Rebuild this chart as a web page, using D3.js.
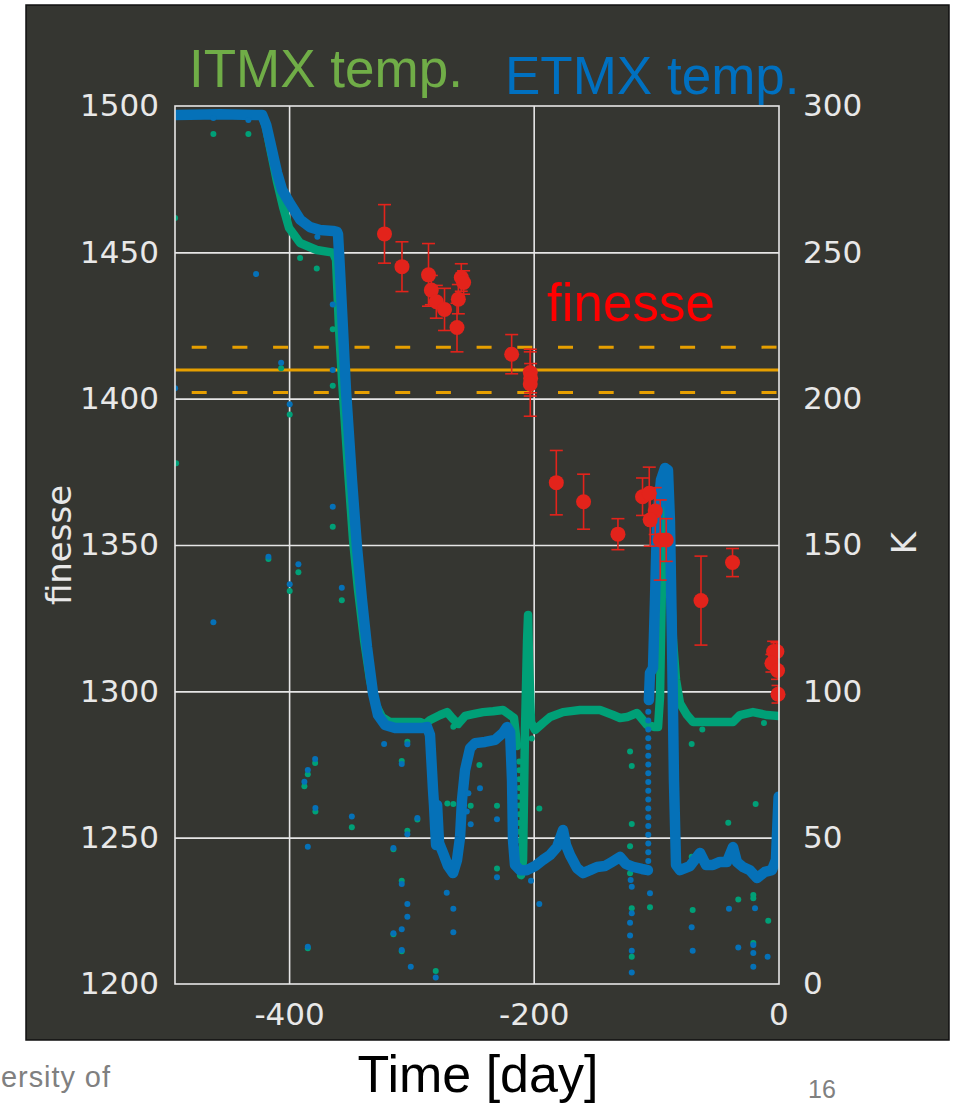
<!DOCTYPE html>
<html><head><meta charset="utf-8">
<script src="https://cdn.jsdelivr.net/npm/d3@7"></script>
<style>body{margin:0;background:#fff;} svg{display:block}</style>
</head><body>
<svg id="chart" width="961" height="1106"></svg>
<script>
// ---------- data ----------
const xTicks = [-400, -200, 0];
const finesseTicks = [1200, 1250, 1300, 1350, 1400, 1450, 1500];
const kelvinTicks = [0, 50, 100, 150, 200, 250, 300];
const finesseRef = 1409.8;
const finesseBand = [1402.1, 1417.6];

// finesse measurements: day, value, error
const finesseDays = [-322, -307.7, -286, -283.7, -279.6, -272.9, -262.7, -261.6, -259.2, -257.3,
  -218, -202.8, -202.5, -202.8, -181.5, -159.2, -131.1, -111, -105.5, -100.6, -104.7, -96.5, -91.6,
  -63.2, -37.4, -3.8, -1.1, -5.2, -0.6, -0.2];
const finesseVals = [1456.3, 1445.1, 1442.3, 1437.1, 1433.1, 1430.5, 1424.3, 1434, 1441.4, 1439.7,
  1415.2, 1408.9, 1407, 1405, 1371.3, 1364.8, 1353.7, 1366.5, 1367.7, 1361.6, 1358.6, 1351.7, 1351.7,
  1331, 1344, 1313.6, 1313.6, 1309.6, 1307.1, 1299];
const finesseErr = [10, 8.5, 10.7, 5, 5.6, 7.2, 8.3, 5, 4.7, 4,
  6.7, 8, 5, 11, 11, 9.4, 5.3, 6.4, 8.9, 8, 9, 13.7, 7.3,
  15.2, 4.8, 3.5, 3, 3, 3, 3];

// ETMX temperature [day, K]
const etmxTempA = [[-493.3,296.9],[-456.4,297.2],[-422,296.9],[-418.7,293.5],[-415.5,287.7],[-409.8,277.1],
  [-405.7,271.3],[-400,267.2],[-391,261.2],[-382.9,258.6],[-374.7,257.6],[-364.1,257.3],[-360.8,257],
  [-360,256.2],[-358.4,243.9],[-355.9,223.4],[-353.5,202.9],[-348.6,172.2],[-344.5,149.3],[-340.4,131.2],
  [-336.3,115.1],[-331.4,99.4],[-327.3,91.9],[-321.5,88.5],[-313.3,87.5],[-290.5,87.5],[-287.2,87.8],
  [-284.8,85.1],[-282.3,66.3],[-281.5,61.2],[-279.8,47.5],[-279,61.2],[-277.4,48.2],[-274.1,44.8],
  [-270,40.3],[-265.9,37.9],[-262.7,42.4],[-260.2,50.2],[-258.6,62.9],[-256.1,73.1],[-252,80.6],
  [-247.9,82.3],[-239.8,82.7],[-231.6,83.4],[-225.1,85.8],[-221.8,87.8],[-219.3,86.1],[-217.7,69.7],
  [-216.9,49.2],[-215.3,40.7],[-211.2,38.9],[-205.5,38.9],[-198.9,40.3],[-192.4,42.4],[-186.6,44.1],
  [-180.9,46.8],[-176,52.6],[-173.6,47.5],[-170.3,44.1],[-164.6,39.6],[-159.7,37.9],[-154,38.9],
  [-148.2,40],[-141.7,40.3],[-136,41.7],[-129.4,43.4],[-124.5,41],[-118.8,40],[-111.5,39.3],[-106.6,38.9]];
const etmxTempB = [[-105.8,97],[-104.9,106.3],[-102.4,108],[-100.8,131.2],[-99.1,158.5],[-95.9,172.2],
  [-92.6,176.3],[-90.2,175.6],[-88.6,158.5],[-86.9,117.5],[-85.3,69.7],[-83.6,40.7],[-80.4,38.9],
  [-72.2,40.3],[-64,44.8],[-59.1,40.7],[-53.4,40.7],[-47.7,41.7],[-42,41.7],[-37,46.8],[-33.8,41.7],
  [-28.9,40],[-23.2,38.9],[-17.4,36.2],[-10.9,38.3],[-5.2,38.9],[-1.9,42.4],[-0.2,59.4],[0.3,64]];
const etmxRiseDays = [-106.3];
const etmxRiseK = [42, 45, 48, 51, 54, 57, 60, 63, 66, 69, 72, 75, 78, 81, 84, 87, 90, 93];
const etmxOutliers = [[-461.9,295.9],[-433.3,295.2],[-427,242.6],[-376.9,255.3],[-364.3,232.2],[-406.5,212.3],
  [-364.3,209.8],[-493.2,203.6],[-399.5,198.1],[-364.3,163.1],[-416.9,146],[-392.4,143.4],[-399.5,136.6],
  [-356.9,135.4],[-461.9,123.6],[-378.7,76.9],[-384.7,73.1],[-387.5,69.1],[-378.5,60.1],[-348.7,57.2],
  [-384.7,46.9],[-384.7,12.7],[-322.3,82],[-303.3,81.9],[-307.9,75.2],[-295.1,56.7],[-303.3,51.2],
  [-314.7,46.5],[-307.9,34.2],[-303.3,27.3],[-303.3,23],[-314.7,17.3],[-307.9,18.7],[-307.9,11.6],
  [-300.5,5.9],[-280.1,2.2],[-271.1,31.2],[-265.7,25.7],[-265.7,17.7],[-243.9,66.9],[-253.4,65.2],
  [-251.5,54.6],[-254.7,58.9],[-230,56.3],[-230,36.5],[-202.2,35.3],[-195.4,27.3],[-120.7,35.5],
  [-119.8,33.2],[-119.8,24.2],[-121.2,20.9],[-121.2,16.6],[-119.8,11.4],[-119.8,3.9],[-104.9,31],
  [-70.8,19.4],[-70,11.4],[-40.3,25.7],[-32.7,12.5],[-19,25.9],[-20.4,13.3],[-20.4,10.6],[-20.4,5.9],
  [-8.7,9.3]];

// ITMX temperature [day, K]
const itmxTempA = [[-493.3,297.2],[-422,296.9],[-418.7,292.5],[-415.5,285.6],[-409.8,274],[-404.9,265.5],
  [-400,258.3],[-391,253.2],[-377.4,250.8],[-364.1,249.9],[-361.6,247.4],[-359.1,223.4],[-356.7,206.4],
  [-351.8,175.6],[-347.7,151.7],[-343.6,134.6],[-338.7,117.5],[-333.8,103.9],[-328.9,95.3],[-324,91.2],
  [-317.5,89.5],[-292.9,89.5],[-288.7,88.8],[-284.7,90.2],[-276.5,91.9],[-270.8,92.9],[-266.7,90.9],
  [-261.8,88.8],[-256.1,91.6],[-249.6,92.2],[-241.4,92.9],[-233.2,93.2],[-225.1,93.6],[-219.3,91.9],
  [-216.1,90.9],[-213.6,81.3]];
const itmxTempB = [[-210.3,37.2],[-208.7,42.4],[-207.1,86.8],[-205.4,117.5],[-204.6,126.1],[-203.8,110.7],
  [-202.2,89.5],[-198.9,86.8],[-192.4,89.2],[-186.6,91.2],[-176,92.9],[-162.1,93.6],[-145.8,93.6],
  [-135.1,91.9],[-129.4,90.9],[-123.7,91.2],[-115.5,92.6],[-107.3,88.5],[-100.8,87.8],[-98.3,87.8],
  [-96.7,98.1],[-95.1,137],[-93.4,172.2],[-91,173.9],[-88.6,144.9],[-86.1,117.5],[-83.6,103.9],
  [-80.4,96],[-74.6,91.9],[-69.7,89.5],[-64,89.5],[-47.7,89.5],[-37,89.5],[-31.3,91.9],[-20.7,92.9],
  [-9.2,91.9],[0.6,91.6]];
const itmxDropDays = [-211.8];
const itmxDropK = [40, 43, 46, 49, 52, 55, 58, 61, 64, 67, 70, 73, 76];
const itmxOutliers = [[-461.9,290.4],[-433.3,290.4],[-493.2,261.7],[-391,248.1],[-377.4,244.5],[-364.3,223.7],
  [-406.5,210.4],[-364.3,204.4],[-399.5,194.6],[-492.4,177.9],[-364.3,156.2],[-416.9,145.2],[-392.4,140.7],
  [-399.5,134.3],[-356.9,131.1],[-378.7,75.5],[-384.7,71.7],[-387.5,67.6],[-378.5,58.9],[-348.7,53.6],
  [-384.7,12.2],[-303.3,82.8],[-307.9,76.2],[-265.7,87.9],[-295.1,56.2],[-303.3,52.4],[-314.7,46],
  [-307.9,35.3],[-314.7,17],[-307.9,11.2],[-280.1,4.4],[-244.4,74.8],[-251.5,60.9],[-270.6,61.7],
  [-265.7,61.5],[-230,60.9],[-230,39.5],[-195.4,60],[-201.6,83.9],[-121.2,79.4],[-119.8,74.5],
  [-119.8,54.7],[-121.2,47.1],[-121.2,37.8],[-119.8,25.9],[-119.8,9.3],[-104.9,26.2],[-70.8,82],
  [-62.1,87],[-70.8,43.5],[-70,25.3],[-40.9,55.1],[-32.7,28.9],[-18.5,61.5],[-20.4,30.4],[-20.4,29.3],
  [-20.4,14],[-8.2,21.6],[-11.7,89.2]];

// ---------- drawing ----------
const svg = d3.select("#chart");
const L = 175, R = 779, T = 106, B = 984;
const x = d3.scaleLinear().domain([-493.3, 0.6]).range([L, R]);
const y = d3.scaleLinear().domain([1200, 1500]).range([B, T]);
const yK = d3.scaleLinear().domain([0, 300]).range([B, T]);

const panelCol = "#353631", gridCol = "#e6e6e6", tickCol = "#e8e8e8";
const blue = "#0571b8", green = "#00a077", orange = "#e69f00", red = "#e3231b";

svg.append("rect").attr("x", 26).attr("y", 5).attr("width", 923).attr("height", 1035)
  .attr("fill", panelCol).attr("stroke", "#111").attr("stroke-width", 1.5);

svg.append("defs").append("clipPath").attr("id", "clip")
  .append("rect").attr("x", L).attr("y", T).attr("width", R - L).attr("height", B - T);

// grid
svg.append("g").attr("transform", `translate(0,${B})`)
  .call(d3.axisBottom(x).tickValues([-400, -200]).tickSize(-(B - T)).tickFormat(""))
  .call(g => g.select(".domain").remove())
  .call(g => g.selectAll("line").attr("stroke", gridCol).attr("stroke-width", 1.6));
svg.append("g").attr("transform", `translate(${L},0)`)
  .call(d3.axisLeft(y).tickValues([1250, 1300, 1350, 1400, 1450]).tickSize(-(R - L)).tickFormat(""))
  .call(g => g.select(".domain").remove())
  .call(g => g.selectAll("line").attr("stroke", gridCol).attr("stroke-width", 1.6));

const plot = svg.append("g").attr("clip-path", "url(#clip)");

// reference lines
plot.append("line").attr("x1", L).attr("x2", R).attr("y1", y(finesseRef)).attr("y2", y(finesseRef))
  .attr("stroke", orange).attr("stroke-width", 3);
plot.selectAll("line.band").data(finesseBand).join("line").attr("class", "band")
  .attr("x1", L).attr("x2", R).attr("y1", d => y(d)).attr("y2", d => y(d))
  .attr("stroke", orange).attr("stroke-width", 3)
  .attr("stroke-dasharray", "15 25.7").attr("stroke-dashoffset", 24);

const lineK = d3.line().x(d => x(d[0])).y(d => yK(d[1])).curve(d3.curveLinear);

// ITMX (green)
[itmxTempA, itmxTempB].forEach(seg => plot.append("path").datum(seg).attr("d", lineK)
  .attr("fill", "none").attr("stroke", green).attr("stroke-width", 8.5)
  .attr("stroke-linejoin", "round").attr("stroke-linecap", "round"));
plot.selectAll("circle.gdrop").data(itmxDropK).join("circle").attr("class", "gdrop")
  .attr("cx", x(itmxDropDays[0])).attr("cy", d => yK(d)).attr("r", 3).attr("fill", green);
plot.selectAll("circle.gout").data(itmxOutliers).join("circle").attr("class", "gout")
  .attr("cx", d => x(d[0])).attr("cy", d => yK(d[1])).attr("r", 3).attr("fill", green);

// ETMX (blue)
[etmxTempA, etmxTempB].forEach(seg => plot.append("path").datum(seg).attr("d", lineK)
  .attr("fill", "none").attr("stroke", blue).attr("stroke-width", 10.5)
  .attr("stroke-linejoin", "round").attr("stroke-linecap", "round"));
plot.selectAll("circle.brise").data(etmxRiseK).join("circle").attr("class", "brise")
  .attr("cx", x(etmxRiseDays[0])).attr("cy", d => yK(d)).attr("r", 3).attr("fill", blue);
plot.selectAll("circle.bout").data(etmxOutliers).join("circle").attr("class", "bout")
  .attr("cx", d => x(d[0])).attr("cy", d => yK(d[1])).attr("r", 3).attr("fill", blue);

// finesse points with error bars
const pts = finesseDays.map((d, i) => ({ d, v: finesseVals[i], e: finesseErr[i] }));
const eb = plot.append("g").attr("stroke", red).attr("stroke-width", 1.6);
pts.forEach(p => {
  const cx = x(p.d), y1 = y(p.v + p.e), y2 = y(p.v - p.e);
  eb.append("line").attr("x1", cx).attr("x2", cx).attr("y1", y1).attr("y2", y2);
  eb.append("line").attr("x1", cx - 6.5).attr("x2", cx + 6.5).attr("y1", y1).attr("y2", y1);
  eb.append("line").attr("x1", cx - 6.5).attr("x2", cx + 6.5).attr("y1", y2).attr("y2", y2);
});
svg.append("g").selectAll("circle").data(pts).join("circle")
  .attr("cx", p => x(p.d)).attr("cy", p => y(p.v)).attr("r", 7.5).attr("fill", red);

// frame
svg.append("rect").attr("x", L).attr("y", T).attr("width", R - L).attr("height", B - T)
  .attr("fill", "none").attr("stroke", gridCol).attr("stroke-width", 1.6);

// axes labels
const tickFont = g => g.selectAll("text").attr("fill", tickCol)
  .style("font-family", "'DejaVu Sans', sans-serif").style("font-size", "31px");
svg.append("g").attr("transform", `translate(${L},0)`)
  .call(d3.axisLeft(y).tickValues(finesseTicks).tickSize(0).tickPadding(16).tickFormat(d3.format("d")))
  .call(g => g.select(".domain").remove()).call(tickFont);
svg.append("g").attr("transform", `translate(${R},0)`)
  .call(d3.axisRight(yK).tickValues(kelvinTicks).tickSize(0).tickPadding(24).tickFormat(d3.format("d")))
  .call(g => g.select(".domain").remove()).call(tickFont);
svg.append("g").attr("transform", `translate(0,${B})`)
  .call(d3.axisBottom(x).tickValues(xTicks).tickSize(0).tickPadding(19).tickFormat(d => d < 0 ? "-" + Math.abs(d) : String(d)))
  .call(g => g.select(".domain").remove()).call(tickFont);

svg.append("text").attr("transform", "translate(71,545) rotate(-90)").attr("text-anchor", "middle")
  .attr("fill", tickCol).style("font-family", "'DejaVu Sans', sans-serif").style("font-size", "34px")
  .text("finesse");
svg.append("text").attr("transform", "translate(916,543) rotate(-90)").attr("text-anchor", "middle")
  .attr("fill", tickCol).style("font-family", "'DejaVu Sans', sans-serif").style("font-size", "34px")
  .text("K");

// series titles
const arial = "'Liberation Sans', Arial, sans-serif";
svg.append("text").attr("x", 189).attr("y", 87).attr("fill", "#70ad47")
  .style("font-family", arial).style("font-size", "53px").text("ITMX temp.");
svg.append("text").attr("x", 505).attr("y", 94).attr("fill", "#0070c0")
  .style("font-family", arial).style("font-size", "53px").text("ETMX temp.");
svg.append("text").attr("x", 547).attr("y", 321).attr("fill", "#ff0000")
  .style("font-family", arial).style("font-size", "53px").text("finesse");

// slide texts
svg.append("text").attr("x", 478).attr("y", 1092).attr("text-anchor", "middle").attr("fill", "#000")
  .style("font-family", arial).style("font-size", "52px").text("Time [day]");
svg.append("text").attr("x", 1).attr("y", 1087).attr("fill", "#808080")
  .style("font-family", arial).style("font-size", "29px").attr("textLength", 109).text("ersity of");
svg.append("text").attr("x", 808).attr("y", 1098).attr("fill", "#808080")
  .style("font-family", arial).style("font-size", "25px").text("16");
</script>
</body></html>
